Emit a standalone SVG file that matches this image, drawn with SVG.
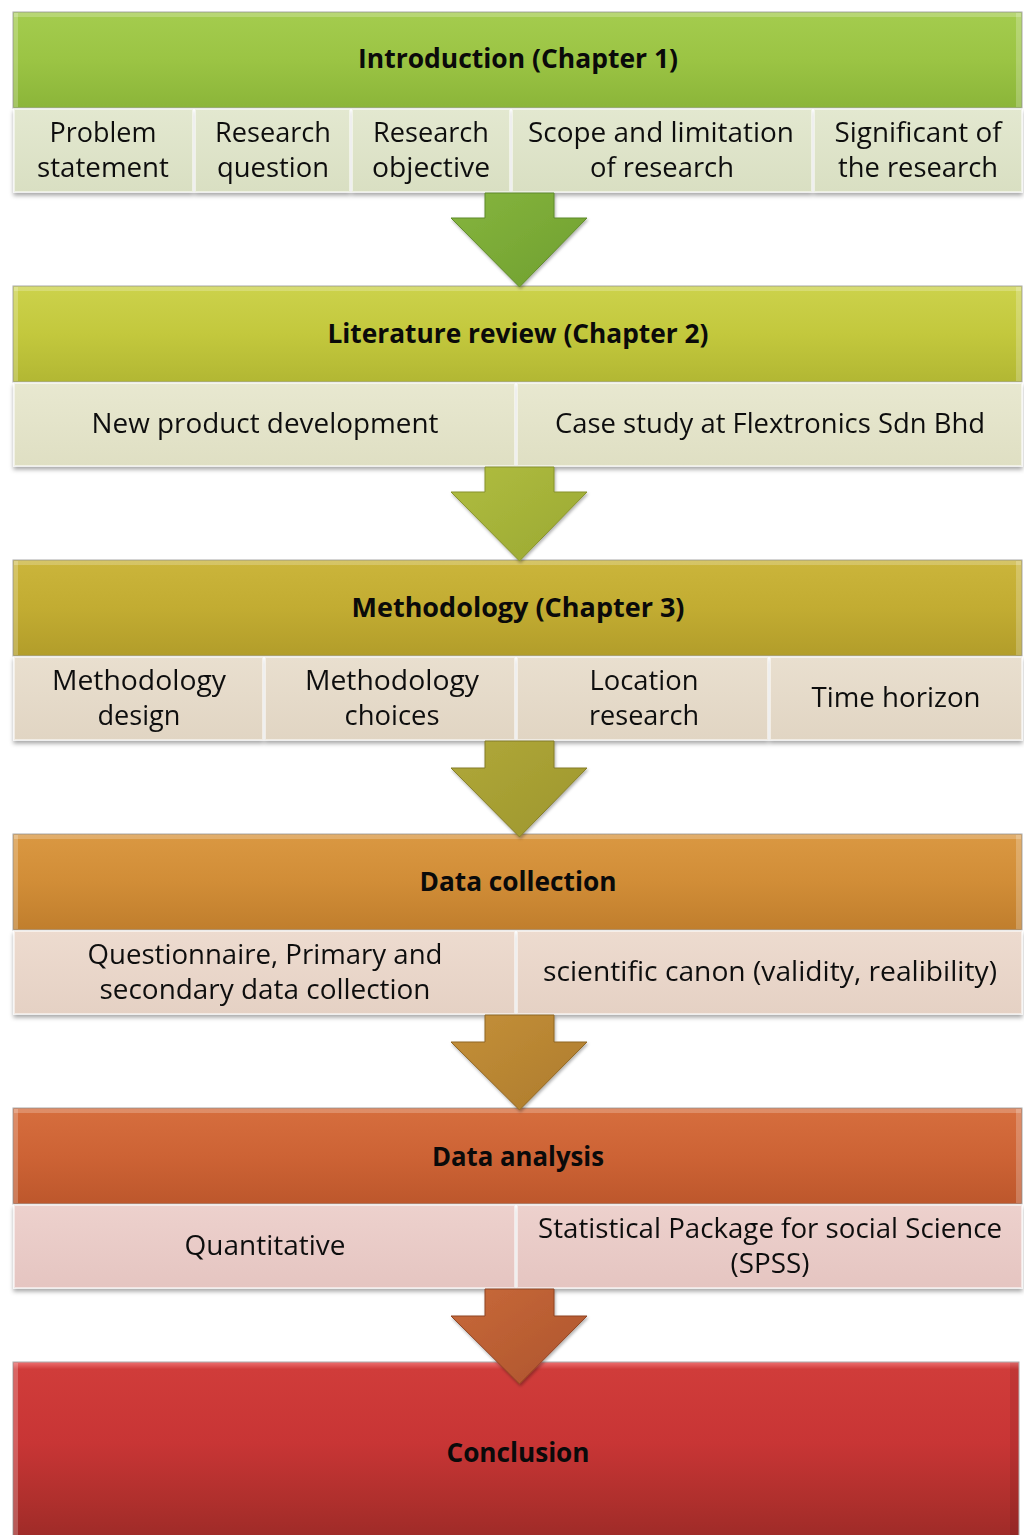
<svg xmlns="http://www.w3.org/2000/svg" width="1024" height="1535" viewBox="0 0 1024 1535">
  <style>
    .hd { font-family: "Open Sans", "Noto Sans", "DejaVu Sans", sans-serif; font-weight: 700; font-size: 26px; fill: #0a0a0a; text-anchor: middle; }
    .tx { font-family: "Open Sans", "Noto Sans", "DejaVu Sans", sans-serif; font-size: 27px; fill: #111111; text-anchor: middle; }
    .frame { stroke: #a9a9a9; stroke-width: 1; }
    .cell { stroke: #ffffff; stroke-opacity: 0.55; stroke-width: 2; }
    .hl { fill: #ffffff; opacity: 0.22; }
    .dk { fill: #000000; opacity: 0.07; }
    .arrow { stroke-width: 1; stroke-linejoin: miter; }
  </style>
  <defs>
    <filter id="shadow" x="-5%" y="-10%" width="110%" height="130%">
      <feDropShadow dx="0" dy="3" stdDeviation="2" flood-color="#000" flood-opacity="0.35"/>
    </filter>
    <filter id="ashadow" x="-20%" y="-20%" width="140%" height="140%">
      <feDropShadow dx="1" dy="2" stdDeviation="1.5" flood-color="#000" flood-opacity="0.3"/>
    </filter>
    <!-- header bar fills -->
    <linearGradient id="g1" x1="0" y1="0" x2="0" y2="1">
      <stop offset="0" stop-color="#a4cc4e"/><stop offset="0.5" stop-color="#9bc444"/><stop offset="1" stop-color="#8bb539"/>
    </linearGradient>
    <linearGradient id="g2" x1="0" y1="0" x2="0" y2="1">
      <stop offset="0" stop-color="#ccd24b"/><stop offset="0.5" stop-color="#c3c83d"/><stop offset="1" stop-color="#b2b733"/>
    </linearGradient>
    <linearGradient id="g3" x1="0" y1="0" x2="0" y2="1">
      <stop offset="0" stop-color="#cbb53b"/><stop offset="0.5" stop-color="#c2ac32"/><stop offset="1" stop-color="#b29d2a"/>
    </linearGradient>
    <linearGradient id="g4" x1="0" y1="0" x2="0" y2="1">
      <stop offset="0" stop-color="#da9842"/><stop offset="0.5" stop-color="#d18d37"/><stop offset="1" stop-color="#c07e2d"/>
    </linearGradient>
    <linearGradient id="g5" x1="0" y1="0" x2="0" y2="1">
      <stop offset="0" stop-color="#d66e3e"/><stop offset="0.5" stop-color="#cd6335"/><stop offset="1" stop-color="#bd572c"/>
    </linearGradient>
    <linearGradient id="g6" x1="0" y1="0" x2="0" y2="1">
      <stop offset="0" stop-color="#ee7070"/><stop offset="0.04" stop-color="#d03c3a"/><stop offset="0.45" stop-color="#c83535"/><stop offset="0.8" stop-color="#ad2f2c"/><stop offset="1" stop-color="#9c2a27"/>
    </linearGradient>
    <!-- sub-row cell fills -->
    <linearGradient id="c1" x1="0" y1="0" x2="0" y2="1"><stop offset="0" stop-color="#e3e8d0"/><stop offset="1" stop-color="#d9dfc2"/></linearGradient>
    <linearGradient id="c2" x1="0" y1="0" x2="0" y2="1"><stop offset="0" stop-color="#e8e8d0"/><stop offset="1" stop-color="#dfdfc3"/></linearGradient>
    <linearGradient id="c3" x1="0" y1="0" x2="0" y2="1"><stop offset="0" stop-color="#e9dfcf"/><stop offset="1" stop-color="#e1d5c3"/></linearGradient>
    <linearGradient id="c4" x1="0" y1="0" x2="0" y2="1"><stop offset="0" stop-color="#eddbcf"/><stop offset="1" stop-color="#e5d1c4"/></linearGradient>
    <linearGradient id="c5" x1="0" y1="0" x2="0" y2="1"><stop offset="0" stop-color="#edd1cd"/><stop offset="1" stop-color="#e5c5c1"/></linearGradient>
    <!-- arrow fills -->
    <linearGradient id="a1" x1="0" y1="0" x2="1" y2="1"><stop offset="0" stop-color="#86b53e"/><stop offset="1" stop-color="#6f9f2f"/></linearGradient>
    <linearGradient id="a2" x1="0" y1="0" x2="1" y2="1"><stop offset="0" stop-color="#b0bd40"/><stop offset="1" stop-color="#9aa832"/></linearGradient>
    <linearGradient id="a3" x1="0" y1="0" x2="1" y2="1"><stop offset="0" stop-color="#b0a83a"/><stop offset="1" stop-color="#9d962c"/></linearGradient>
    <linearGradient id="a4" x1="0" y1="0" x2="1" y2="1"><stop offset="0" stop-color="#c4903a"/><stop offset="1" stop-color="#ad7b2b"/></linearGradient>
    <linearGradient id="a5" x1="0" y1="0" x2="1" y2="1"><stop offset="0" stop-color="#c86a3a"/><stop offset="1" stop-color="#ad532c"/></linearGradient>
  </defs>

  <rect width="1024" height="1535" fill="#ffffff"/>

  <!-- Stage 1 -->
  <g id="introduction">
    <rect class="frame" x="13" y="12" width="1009" height="96" fill="url(#g1)"/>
    <rect class="hl" x="14" y="13" width="1007" height="4"/>
    <rect class="hl" x="14" y="13" width="4" height="94"/>
    <rect class="hl" x="1016" y="13" width="5" height="94"/>
    <text class="hd" x="518" y="68" textLength="320" lengthAdjust="spacingAndGlyphs">Introduction (Chapter 1)</text>
  </g>
  <g id="intro-items" filter="url(#shadow)">
    <g id="problem-statement">
      <rect class="cell" x="14" y="109" width="179" height="83" fill="url(#c1)"/>
      <text class="tx" x="103" y="142" textLength="107" lengthAdjust="spacingAndGlyphs">Problem</text>
      <text class="tx" x="103" y="177" textLength="132" lengthAdjust="spacingAndGlyphs">statement</text>
    </g>
    <g id="research-question">
      <rect class="cell" x="195" y="109" width="155" height="83" fill="url(#c1)"/>
      <text class="tx" x="273" y="142" textLength="116" lengthAdjust="spacingAndGlyphs">Research</text>
      <text class="tx" x="273" y="177" textLength="112" lengthAdjust="spacingAndGlyphs">question</text>
    </g>
    <g id="research-objective">
      <rect class="cell" x="352" y="109" width="158" height="83" fill="url(#c1)"/>
      <text class="tx" x="431" y="142" textLength="116" lengthAdjust="spacingAndGlyphs">Research</text>
      <text class="tx" x="431" y="177" textLength="118" lengthAdjust="spacingAndGlyphs">objective</text>
    </g>
    <g id="scope-limitation">
      <rect class="cell" x="512" y="109" width="300" height="83" fill="url(#c1)"/>
      <text class="tx" x="661" y="142" textLength="266" lengthAdjust="spacingAndGlyphs">Scope and limitation</text>
      <text class="tx" x="662" y="177" textLength="144" lengthAdjust="spacingAndGlyphs">of research</text>
    </g>
    <g id="significance">
      <rect class="cell" x="814" y="109" width="208" height="83" fill="url(#c1)"/>
      <text class="tx" x="918" y="142" textLength="167" lengthAdjust="spacingAndGlyphs">Significant of</text>
      <text class="tx" x="918" y="177" textLength="160" lengthAdjust="spacingAndGlyphs">the research</text>
    </g>
  </g>

  <!-- Stage 2 -->
  <g id="literature-review">
    <rect class="frame" x="13" y="286" width="1009" height="96" fill="url(#g2)"/>
    <rect class="hl" x="14" y="287" width="1007" height="4"/>
    <rect class="hl" x="14" y="287" width="4" height="94"/>
    <rect class="hl" x="1016" y="287" width="5" height="94"/>
    <text class="hd" x="518" y="343" textLength="381" lengthAdjust="spacingAndGlyphs">Literature review (Chapter 2)</text>
  </g>
  <g id="literature-items" filter="url(#shadow)">
    <g id="npd">
      <rect class="cell" x="14" y="383" width="501" height="83" fill="url(#c2)"/>
      <text class="tx" x="265" y="433" textLength="347" lengthAdjust="spacingAndGlyphs">New product development</text>
    </g>
    <g id="case-study">
      <rect class="cell" x="517" y="383" width="505" height="83" fill="url(#c2)"/>
      <text class="tx" x="770" y="433" textLength="430" lengthAdjust="spacingAndGlyphs">Case study at Flextronics Sdn Bhd</text>
    </g>
  </g>

  <!-- Stage 3 -->
  <g id="methodology">
    <rect class="frame" x="13" y="560" width="1009" height="96" fill="url(#g3)"/>
    <rect class="hl" x="14" y="561" width="1007" height="4"/>
    <rect class="hl" x="14" y="561" width="4" height="94"/>
    <rect class="hl" x="1016" y="561" width="5" height="94"/>
    <text class="hd" x="518" y="617" textLength="333" lengthAdjust="spacingAndGlyphs">Methodology (Chapter 3)</text>
  </g>
  <g id="methodology-items" filter="url(#shadow)">
    <g id="method-design">
      <rect class="cell" x="14" y="657" width="249" height="83" fill="url(#c3)"/>
      <text class="tx" x="139" y="690" textLength="174" lengthAdjust="spacingAndGlyphs">Methodology</text>
      <text class="tx" x="139" y="725" textLength="83" lengthAdjust="spacingAndGlyphs">design</text>
    </g>
    <g id="method-choices">
      <rect class="cell" x="265" y="657" width="250" height="83" fill="url(#c3)"/>
      <text class="tx" x="392" y="690" textLength="174" lengthAdjust="spacingAndGlyphs">Methodology</text>
      <text class="tx" x="392" y="725" textLength="95" lengthAdjust="spacingAndGlyphs">choices</text>
    </g>
    <g id="location">
      <rect class="cell" x="517" y="657" width="251" height="83" fill="url(#c3)"/>
      <text class="tx" x="644" y="690" textLength="109" lengthAdjust="spacingAndGlyphs">Location</text>
      <text class="tx" x="644" y="725" textLength="110" lengthAdjust="spacingAndGlyphs">research</text>
    </g>
    <g id="time-horizon">
      <rect class="cell" x="770" y="657" width="252" height="83" fill="url(#c3)"/>
      <text class="tx" x="896" y="707" textLength="169" lengthAdjust="spacingAndGlyphs">Time horizon</text>
    </g>
  </g>

  <!-- Stage 4 -->
  <g id="data-collection">
    <rect class="frame" x="13" y="834" width="1009" height="96" fill="url(#g4)"/>
    <rect class="hl" x="14" y="835" width="1007" height="4"/>
    <rect class="hl" x="14" y="835" width="4" height="94"/>
    <rect class="hl" x="1016" y="835" width="5" height="94"/>
    <text class="hd" x="518" y="891" textLength="197" lengthAdjust="spacingAndGlyphs">Data collection</text>
  </g>
  <g id="collection-items" filter="url(#shadow)">
    <g id="questionnaire">
      <rect class="cell" x="14" y="931" width="501" height="83" fill="url(#c4)"/>
      <text class="tx" x="265" y="964" textLength="355" lengthAdjust="spacingAndGlyphs">Questionnaire, Primary and</text>
      <text class="tx" x="265" y="999" textLength="331" lengthAdjust="spacingAndGlyphs">secondary data collection</text>
    </g>
    <g id="scientific-canon">
      <rect class="cell" x="517" y="931" width="505" height="83" fill="url(#c4)"/>
      <text class="tx" x="770" y="981" textLength="454" lengthAdjust="spacingAndGlyphs">scientific canon (validity, realibility)</text>
    </g>
  </g>

  <!-- Stage 5 -->
  <g id="data-analysis">
    <rect class="frame" x="13" y="1108" width="1009" height="96" fill="url(#g5)"/>
    <rect class="hl" x="14" y="1109" width="1007" height="4"/>
    <rect class="hl" x="14" y="1109" width="4" height="94"/>
    <rect class="hl" x="1016" y="1109" width="5" height="94"/>
    <text class="hd" x="518" y="1166" textLength="172" lengthAdjust="spacingAndGlyphs">Data analysis</text>
  </g>
  <g id="analysis-items" filter="url(#shadow)">
    <g id="quantitative">
      <rect class="cell" x="14" y="1205" width="501" height="83" fill="url(#c5)"/>
      <text class="tx" x="265" y="1255" textLength="161" lengthAdjust="spacingAndGlyphs">Quantitative</text>
    </g>
    <g id="spss">
      <rect class="cell" x="517" y="1205" width="505" height="83" fill="url(#c5)"/>
      <text class="tx" x="770" y="1238" textLength="464" lengthAdjust="spacingAndGlyphs">Statistical Package for social Science</text>
      <text class="tx" x="770" y="1273" textLength="79" lengthAdjust="spacingAndGlyphs">(SPSS)</text>
    </g>
  </g>

  <!-- Stage 6 -->
  <g id="conclusion">
    <rect class="frame" x="13" y="1362" width="1006" height="180" fill="url(#g6)"/>
    <rect class="hl" x="14" y="1363" width="4" height="172"/>
    <rect class="dk" x="1010" y="1363" width="8" height="172"/>
    <text class="hd" x="518" y="1462" textLength="143" lengthAdjust="spacingAndGlyphs">Conclusion</text>
  </g>

  <!-- Down arrows between stages -->
  <g id="connectors" filter="url(#ashadow)">
    <path class="arrow" fill="url(#a1)" stroke="#5f8a2a" d="M485,193 H554 V218 H587 L519.5,287 L451,218 H485 Z"/>
    <path class="arrow" fill="url(#a2)" stroke="#87922c" d="M485,467 H554 V492 H587 L519.5,561 L451,492 H485 Z"/>
    <path class="arrow" fill="url(#a3)" stroke="#847d28" d="M485,741 H554 V768 H587 L519.5,837 L451,768 H485 Z"/>
    <path class="arrow" fill="url(#a4)" stroke="#8f6624" d="M485,1015 H554 V1042 H587 L519.5,1110 L451,1042 H485 Z"/>
    <path class="arrow" fill="url(#a5)" stroke="#8e4424" d="M485,1289 H554 V1316 H587 L519.5,1384 L451,1316 H485 Z"/>
  </g>
</svg>
